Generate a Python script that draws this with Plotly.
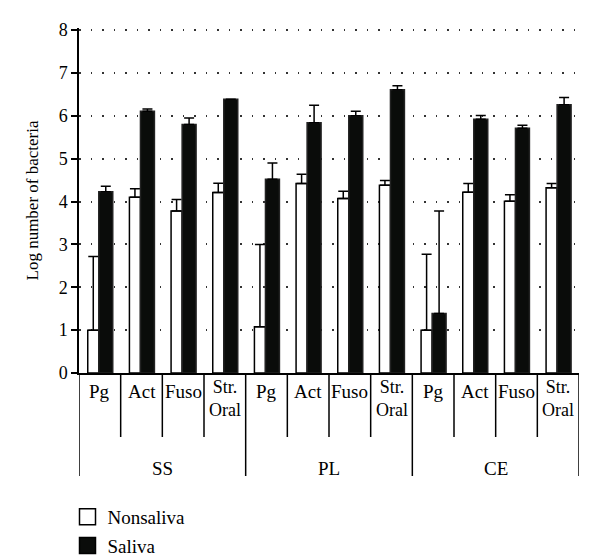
import plotly.graph_objects as go

# values (log number of bacteria), ordered SS, PL, CE x Pg, Act, Fuso, Str. Oral
groups = ["SS", "PL", "CE"]
bacteria = ["Pg", "Act", "Fuso", "Str.<br>Oral"]

nonsaliva = [1.00, 4.10, 3.78, 4.21, 1.08, 4.42, 4.07, 4.38, 1.00, 4.22, 4.01, 4.32]
nonsaliva_err = [1.72, 0.20, 0.27, 0.22, 1.92, 0.22, 0.17, 0.11, 1.77, 0.20, 0.15, 0.10]
saliva = [4.23, 6.11, 5.80, 6.39, 4.52, 5.84, 6.00, 6.61, 1.39, 5.92, 5.71, 6.26]
saliva_err = [0.13, 0.05, 0.15, 0.00, 0.38, 0.41, 0.11, 0.09, 2.39, 0.09, 0.07, 0.17]

cats = [g + " " + b for g in groups for b in bacteria]
zeros = [0] * len(cats)

FONT = "Liberation Serif"
BLACK = "#0a0c0a"

fig = go.Figure()

fig.add_trace(go.Bar(x=cats, y=nonsaliva, name="Nonsaliva", showlegend=False,
                     width=0.265, offset=-0.29,
                     marker=dict(color="white", line=dict(color="black", width=1.5)),
                     error_y=dict(type="data", symmetric=False, array=nonsaliva_err, arrayminus=zeros,
                                  color="black", thickness=1.5, width=5)))
fig.add_trace(go.Bar(x=cats, y=saliva, name="Saliva", showlegend=False,
                     width=0.335, offset=-0.025,
                     marker=dict(color=BLACK, line=dict(color="#222", width=1.5)),
                     error_y=dict(type="data", symmetric=False, array=saliva_err, arrayminus=zeros,
                                  color="black", thickness=1.5, width=5)))

# legend entries with bigger square swatches
fig.add_trace(go.Scatter(x=[None], y=[None], mode="markers", name="Nonsaliva", legendgroup="a",
                         marker=dict(symbol="square", size=17, color="white", line=dict(color="black", width=1.5))))
fig.add_trace(go.Scatter(x=[None], y=[None], mode="markers", name="Saliva", legendgroup="b",
                         marker=dict(symbol="square", size=17, color=BLACK, line=dict(color="black", width=1.5))))

# category boxes under the axis
shapes = []
for i in range(len(cats) + 1):
    depth = -103 if i % len(bacteria) == 0 else -64
    shapes.append(dict(type="line", xref="x", yref="paper", ysizemode="pixel", yanchor=0,
                       x0=i - 0.5, x1=i - 0.5, y0=0, y1=depth,
                       line=dict(color="black", width=1.5)))

annotations = []
for i, c in enumerate(cats):
    label = bacteria[i % len(bacteria)]
    two_line = "<br>" in label
    annotations.append(dict(x=c, xref="x", y=0, yref="paper", yanchor="top",
                            yshift=-2 if two_line else -6,
                            text=label, showarrow=False,
                            font=dict(size=18 if two_line else 19, family=FONT, color="black")))
for j, g in enumerate(groups):
    annotations.append(dict(x=j * len(bacteria) + (len(bacteria) - 1) / 2, xref="x", y=0, yref="paper",
                            yanchor="middle", yshift=-95, text=g, showarrow=False,
                            font=dict(size=19, family=FONT, color="black")))

fig.update_layout(
    width=600, height=556,
    margin=dict(l=79, r=21, t=28, b=183, autoexpand=False),
    paper_bgcolor="white", plot_bgcolor="white",
    font=dict(family=FONT, color="black", size=18),
    barmode="overlay",
    shapes=shapes, annotations=annotations,
    legend=dict(x=-0.023, y=-0.362, xanchor="left", yanchor="top", tracegroupgap=1,
                font=dict(size=19, family=FONT), bgcolor="rgba(0,0,0,0)"),
)
fig.update_xaxes(type="category", range=[-0.5, len(cats) - 0.5], showticklabels=False,
                 showline=True, linecolor="black", linewidth=1.5, showgrid=False, ticks="")
fig.update_yaxes(range=[0, 8.05], tickvals=list(range(9)), showline=True, linecolor="black", linewidth=1.5,
                 ticks="outside", ticklen=6, tickwidth=1.5, tickcolor="black",
                 tickfont=dict(size=18), zeroline=False,
                 showgrid=True, gridcolor="#333", gridwidth=1.5, griddash="1.5px,10px",
                 title=dict(text="Log number of bacteria", font=dict(size=17), standoff=16))

# drop the default page margin so the figure sits at the window's corner
fig.write_html("out.html", config={"displayModeBar": False},
               post_script="document.body.style.margin='0';")
